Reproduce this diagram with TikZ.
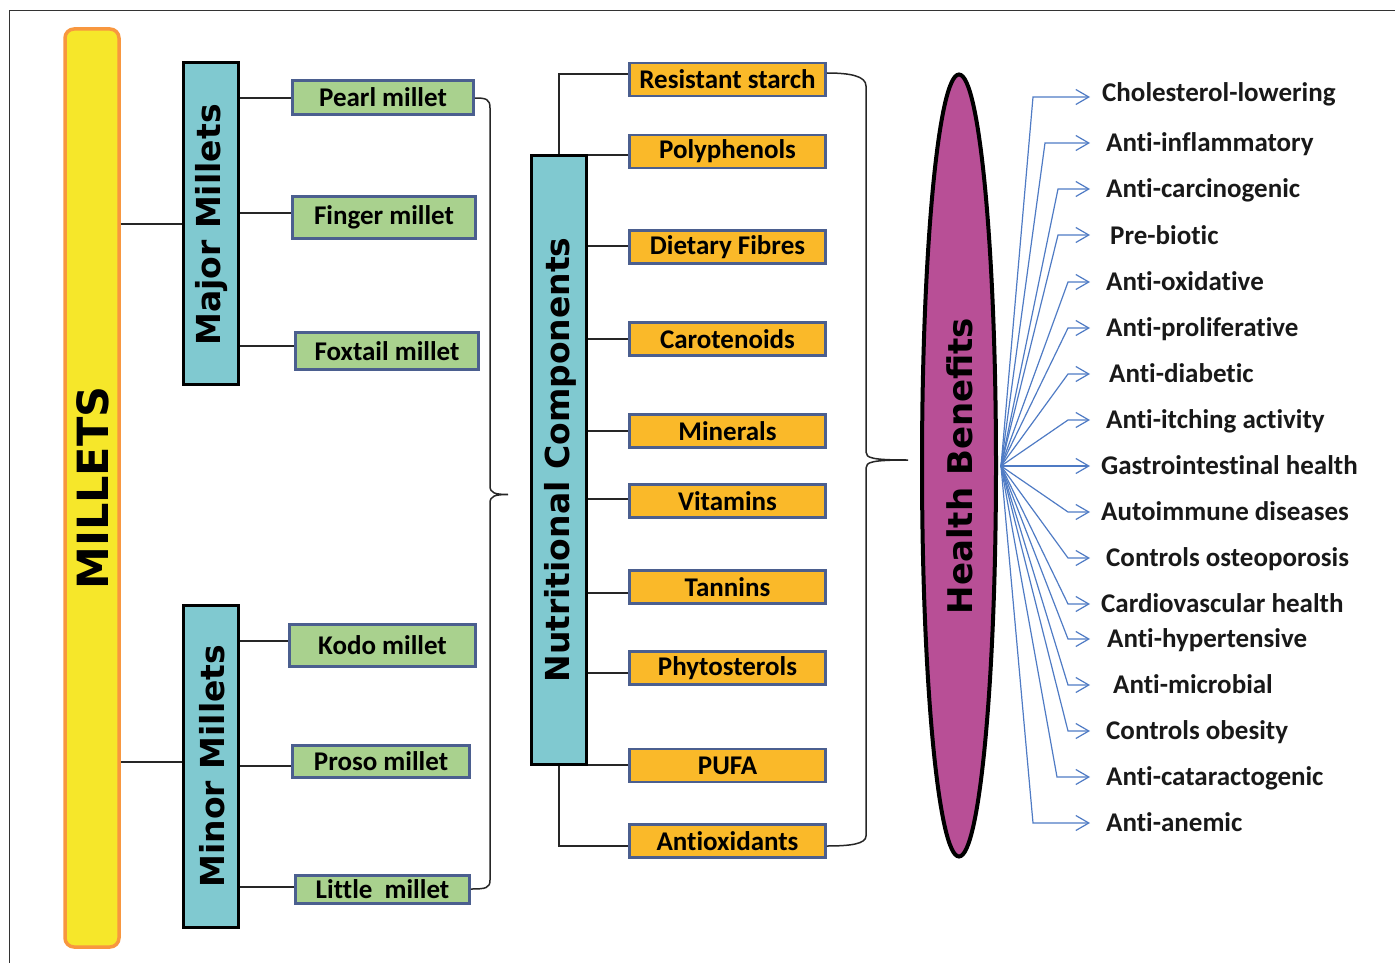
\documentclass[tikz,border=0pt]{standalone}
\usepackage{fontspec}
\setmainfont{Carlito}[Ligatures=NoCommon]
\newfontfamily\heavy{DejaVu Sans}
\usetikzlibrary{arrows.meta,shapes.geometric}
\definecolor{tealF}{HTML}{80C9D0}
\definecolor{greenF}{HTML}{A9D18E}
\definecolor{orangeF}{HTML}{FAB929}
\definecolor{slate}{HTML}{4B5F8F}
\definecolor{yellowF}{HTML}{F6E72A}
\definecolor{orangeB}{HTML}{F8973F}
\definecolor{magF}{HTML}{B84F96}
\definecolor{arrowB}{HTML}{4F7BC4}
\begin{document}
\begin{tikzpicture}[x=1pt,y=-1pt,
  millet/.style={draw=orangeB, line width=3.5pt, fill=yellowF, rounded corners=9pt, inner sep=0pt, minimum width=54pt, minimum height=918pt},
  group/.style={draw=black, line width=3pt, fill=tealF, inner sep=0pt, minimum width=55pt},
  vlab/.style={rotate=90, inner sep=0pt, font=\heavy\bfseries\fontsize{33}{36}\selectfont},
  gbox/.style={draw=slate, line width=2.8pt, fill=greenF, inner sep=0pt, font=\bfseries\fontsize{27}{29}\selectfont},
  obox/.style={draw=slate, line width=2.8pt, fill=orangeF, inner sep=0pt, minimum width=196pt, minimum height=33pt, font=\bfseries\fontsize{27}{29}\selectfont},
  conn/.style={line width=1.5pt, draw=black!85},
  benefit/.style={anchor=base west, inner sep=0pt, font=\bfseries\fontsize{27}{29}\selectfont, text=black!90},
  arr/.style={draw=arrowB, line width=1.2pt, -{Straight Barb[length=13pt,width=15pt]}}
]
\useasboundingbox (0,0) rectangle (1395,963);
\draw[line width=1pt, black!80] (9,963) -- (9,11) -- (1395,11);

% Millets
\node[millet] (millets) at (92,488) {};
\node[vlab, font=\heavy\bfseries\fontsize{43}{46}\selectfont] (milletsT) at (93,488) {MILLETS};

\node[group, minimum height=321pt] (major) at (211,223.5) {};
\node[vlab] (majorT) at (212,225) {Major Millets};
\node[group, minimum height=322pt] (minor) at (211,766) {};
\node[vlab] (minorT) at (212,766) {Minor Millets};

\node[gbox, minimum width=181pt, minimum height=34pt] (pearl) at (383,97.5) {Pearl millet};
\node[gbox, minimum width=183pt, minimum height=42pt] (finger) at (384,217.5) {Finger millet};
\node[gbox, minimum width=183pt, minimum height=37pt] (foxtail) at (387,351) {Foxtail millet};
\node[gbox, minimum width=186pt, minimum height=42pt] (kodo) at (382.5,645.5) {Kodo millet};
\node[gbox, minimum width=177pt, minimum height=32pt] (proso) at (381,761.5) {Proso millet};
\node[gbox, minimum width=174pt, minimum height=28pt] (little) at (382.5,889.5) {Little~ millet};

\draw[conn] (millets.east |- 0,224) -- (major.west |- 0,224);
\draw[conn] (millets.east |- 0,762) -- (minor.west |- 0,762);
\draw[conn] (major.east |- 0,98) -- (pearl.west |- 0,98);
\draw[conn] (major.east |- 0,213) -- (finger.west |- 0,213);
\draw[conn] (major.east |- 0,346) -- (foxtail.west |- 0,346);
\draw[conn] (minor.east |- 0,641) -- (kodo.west |- 0,641);
\draw[conn] (minor.east |- 0,766) -- (proso.west |- 0,766);
\draw[conn] (minor.east |- 0,887) -- (little.west |- 0,887);

\draw[conn] (pearl.east |- 0,98) .. controls (486,98) and (490,99) .. (490,108) -- (490,486)
  .. controls (490,493) and (495,494.5) .. (508,494.5)
  .. controls (495,494.5) and (490,496) .. (490,503) -- (490,880)
  .. controls (490,888) and (486,889) .. (little.east |- 0,889);

% Nutritional components
\node[group, minimum height=609pt] (nutr) at (559,460) {};
\node[vlab] (nutrT) at (560,460) {Nutritional Components};

\node[obox] (rs) at (727.5,79.5) {Resistant starch};
\node[obox] (poly) at (727.5,151.5) {Polyphenols};
\node[obox] (diet) at (727.5,247) {Dietary Fibres};
\node[obox] (caro) at (727.5,339) {Carotenoids};
\node[obox] (mine) at (727.5,431) {Minerals};
\node[obox] (vit) at (727.5,501) {Vitamins};
\node[obox] (tann) at (727.5,587) {Tannins};
\node[obox] (phyto) at (727.5,668) {Phytosterols};
\node[obox] (pufa) at (727.5,765.5) {PUFA};
\node[obox] (antiox) at (727.5,841) {Antioxidants};

\draw[conn] (nutr.north) |- (rs.west |- 0,74);
\draw[conn] (nutr.south) |- (antiox.west |- 0,846);
\draw[conn] (nutr.east |- 0,155) -- (poly.west |- 0,155);
\draw[conn] (nutr.east |- 0,246) -- (diet.west |- 0,246);
\draw[conn] (nutr.east |- 0,339) -- (caro.west |- 0,339);
\draw[conn] (nutr.east |- 0,431) -- (mine.west |- 0,431);
\draw[conn] (nutr.east |- 0,499) -- (vit.west |- 0,499);
\draw[conn] (nutr.east |- 0,593) -- (tann.west |- 0,593);
\draw[conn] (nutr.east |- 0,673) -- (phyto.west |- 0,673);
\draw[conn] (nutr.east |- 0,765) -- (pufa.west |- 0,765);

\draw[conn] (rs.east |- 0,73) .. controls (850,73) and (866,76) .. (866,86) -- (866,452)
  .. controls (866,458) and (872,460) .. (908,460)
  .. controls (872,460) and (866,462) .. (866,468) -- (866,836)
  .. controls (866,844) and (850,846) .. (antiox.east |- 0,846);

% Health benefits
\node[ellipse, draw=black, line width=4pt, fill=magF, minimum width=74pt, minimum height=782pt, inner sep=0pt] (hb) at (959,465.5) {};
\node[vlab, font=\heavy\bfseries\fontsize{34}{36}\selectfont] (hbT) at (960,466) {Health Benefits};
\coordinate (hub) at (1001,466);

\foreach \t/\yc/\ya/\cx/\lx [count=\i] in {
  Cholesterol-lowering/93/97/1033/1102,
  Anti-inflammatory/143/143/1045/1106,
  Anti-carcinogenic/189/189/1058/1106,
  Pre-biotic/236/235/1058/1110,
  Anti-oxidative/282/282/1068/1106,
  Anti-proliferative/328/328/1068/1106,
  Anti-diabetic/374/374/1068/1109,
  Anti-itching activity/420/420/1068/1106,
  Gastrointestinal health/466/466/1040/1101,
  Autoimmune diseases/512/512/1068/1101,
  Controls osteoporosis/558/558/1068/1106,
  Cardiovascular health/604/604/1068/1101,
  Anti-hypertensive/639/639/1068/1107,
  Anti-microbial/685/685/1068/1113,
  Controls obesity/731/731/1068/1106,
  Anti-cataractogenic/777/777/1057/1106,
  Anti-anemic/823/823/1033/1106}{
  \node[benefit] (b\i) at (\lx,\yc+8.6) {\t};
  \coordinate (c\i) at (\cx,\ya);
  \coordinate (e\i) at (1090,\ya);
  \draw[arr] (hub) -- (c\i) -- (e\i);
}
\end{tikzpicture}
\end{document}
